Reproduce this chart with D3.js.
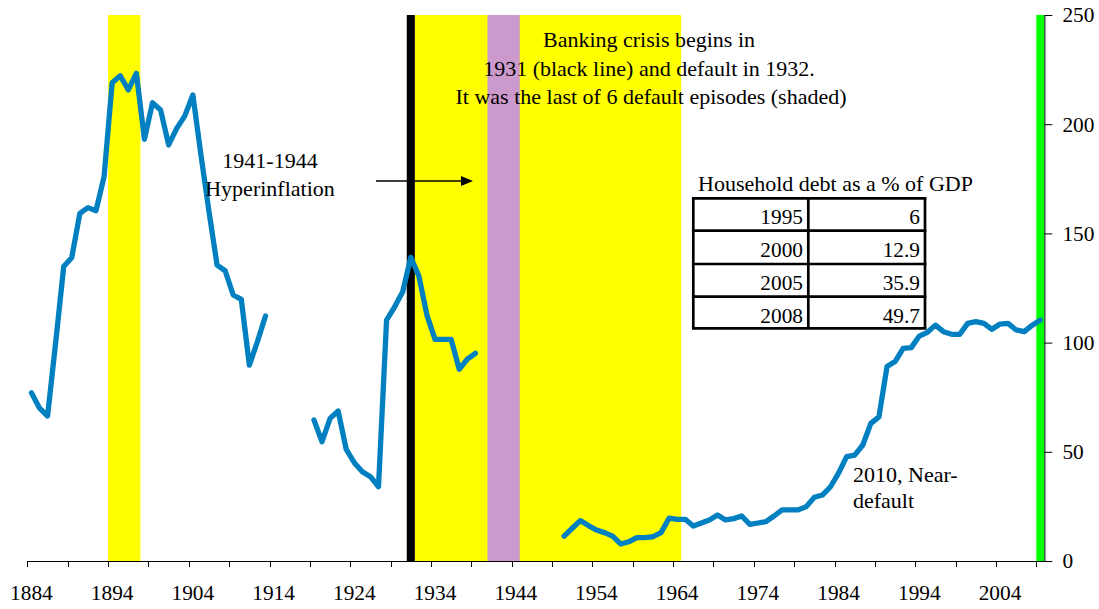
<!DOCTYPE html>
<html>
<head>
<meta charset="utf-8">
<script src="https://cdn.jsdelivr.net/npm/d3@7"></script>
<style>
  html, body { margin: 0; padding: 0; background: #fff; }
  svg { display: block; }
  text { font-family: "Liberation Serif", "Times New Roman", serif; fill: #000; }
</style>
</head>
<body>
<svg id="chart" width="1099" height="609"></svg>
<script>
// ---------------- DATA ----------------
const categoryYears = d3.range(1884, 2010);          // 1884 ... 2009
const labelYears = [1884, 1894, 1904, 1914, 1924, 1934, 1944, 1954, 1964, 1974, 1984, 1994, 2004];
const yTicks = [0, 50, 100, 150, 200, 250];

// Public debt (% of GDP), three observed segments
const segment1Start = 1884;
const segment1Values = [77, 70, 66.4, 100, 134.8, 139, 159.2, 161.8, 160.4, 176,
  219, 222.2, 215.7, 223.3, 193.1, 209.8, 206.5, 190.5, 198.1, 203.8,
  213.4, 186, 160, 135.5, 132.9, 121.8, 119.8, 89.7, 100.5, 112.2];
const segment2Start = 1919;
const segment2Values = [64.6, 54.6, 65.3, 68.7, 51.1, 45, 40.9, 38.6, 34, 110.3,
  116.4, 123.3, 139, 130.5, 112.6, 101.5, 101.5, 101.5, 87.8, 92.4, 95.1];
const segment3Start = 1950;
const segment3Values = [11.4, 15, 18.5, 16.2, 14.2, 13, 11.4, 7.8, 8.8, 10.7,
  10.7, 11.1, 13, 19.6, 19.1, 19.1, 16, 17.4, 18.8, 21.1,
  18.8, 19.4, 20.6, 16.8, 17.4, 18, 20.6, 23.4, 23.4, 23.4,
  24.9, 29.2, 30.2, 34, 40.2, 47.8, 48.5, 53.1, 63, 66,
  89, 91.3, 97.4, 97.7, 103, 104.7, 108, 105, 103.8, 103.8,
  108.8, 109.6, 108.8, 106.1, 108.5, 108.8, 105.8, 105, 108, 110.3];

// Shaded episodes [first year, last year]
const defaultEpisodes = [[1894, 1897], [1932, 1964]];
const hyperinflation = [[1941, 1944]];
const bankingCrisis = [[1931, 1931]];
const nearDefault = [[2009, 2009]];
const shadeTop = 250;

// Inset table
const tableTitle = "Household debt as a % of GDP";
const tableYears = ["1995", "2000", "2005", "2008"];
const tableValues = ["6", "12.9", "35.9", "49.7"];

// ---------------- CHART ----------------
const svg = d3.select("#chart");
svg.append("rect").attr("width", 1099).attr("height", 609).attr("fill", "#fff");

const x = d3.scaleBand().domain(categoryYears).range([27.4, 1044.4]).padding(0);
const y = d3.scaleLinear().domain([0, 250]).range([561, 15]);
const bw = x.bandwidth();
const FONT = "21.33px";
const ANN_FONT = "22px";

// series (year-indexed, null where missing)
const series = new Map();
segment1Values.forEach((v, i) => series.set(segment1Start + i, v));
segment2Values.forEach((v, i) => series.set(segment2Start + i, v));
segment3Values.forEach((v, i) => series.set(segment3Start + i, v));
const lineData = categoryYears.map(yr => ({ year: yr, value: series.has(yr) ? series.get(yr) : null }));

// shading
function shade(spans, color) {
  svg.append("g").selectAll("rect").data(spans).join("rect")
    .attr("x", d => x(d[0]))
    .attr("width", d => x(d[1]) + bw - x(d[0]))
    .attr("y", y(shadeTop))
    .attr("height", y(0) - y(shadeTop))
    .attr("fill", color);
}
shade(defaultEpisodes, "#FFFF00");
shade(hyperinflation, "#CC99CC");
shade(bankingCrisis, "#000000");
shade(nearDefault, "#00FF00");

// x axis: ticks every 5 categories at category boundaries
const tickYears = categoryYears.filter(yr => (yr - 1884) % 5 === 0);
const gx = svg.append("g");
gx.append("line").attr("x1", x(1884)).attr("x2", x(2009) + bw)
  .attr("y1", y(0) + 0.5).attr("y2", y(0) + 0.5).attr("stroke", "#000").attr("stroke-width", 1);
gx.selectAll("line.tk").data(tickYears).join("line").attr("class", "tk")
  .attr("x1", d => Math.round(x(d)) + 0.5).attr("x2", d => Math.round(x(d)) + 0.5)
  .attr("y1", y(0)).attr("y2", y(0) + 6).attr("stroke", "#000");

const xLabelAxis = d3.axisBottom(x).tickValues(labelYears).tickSize(0).tickPadding(0).tickFormat(d => d);
const gxl = svg.append("g").attr("transform", `translate(0,${y(0)})`).call(xLabelAxis);
gxl.select(".domain").remove();
gxl.selectAll("text").attr("dy", null).attr("y", 39).style("font-size", FONT)
  .style("font-family", "'Liberation Serif', 'Times New Roman', serif");

// right y axis
const yAxis = d3.axisRight(y).tickValues(yTicks).tickSize(8).tickSizeOuter(0).tickPadding(10);
const gy = svg.append("g").attr("transform", `translate(${x(2009) + bw},0)`).call(yAxis);
gy.select(".domain").attr("stroke", "#000");
gy.selectAll("text").style("font-size", FONT)
  .style("font-family", "'Liberation Serif', 'Times New Roman', serif");

// line
const line = d3.line()
  .defined(d => d.value !== null)
  .x(d => x(d.year) + bw / 2)
  .y(d => y(d.value));
svg.append("path").datum(lineData)
  .attr("d", line)
  .attr("fill", "none")
  .attr("stroke", "#0080C0")
  .attr("stroke-width", 5.3)
  .attr("stroke-linejoin", "round")
  .attr("stroke-linecap", "round");

// annotations
const ann = svg.append("g").style("font-size", ANN_FONT);
ann.append("text").attr("x", 649).attr("y", 47).attr("text-anchor", "middle").text("Banking crisis begins in");
ann.append("text").attr("x", 649).attr("y", 76).attr("text-anchor", "middle").text("1931 (black line) and default in 1932.");
ann.append("text").attr("x", 651).attr("y", 104).attr("text-anchor", "middle").text("It was the last of 6 default episodes (shaded)");
ann.append("text").attr("x", 270).attr("y", 168).attr("text-anchor", "middle").text("1941-1944");
ann.append("text").attr("x", 270).attr("y", 196).attr("text-anchor", "middle").text("Hyperinflation");
ann.append("text").attr("x", 853).attr("y", 482).text("2010, Near-");
ann.append("text").attr("x", 853).attr("y", 508).text("default");

// arrow
svg.append("line").attr("x1", 376).attr("y1", 181).attr("x2", 470).attr("y2", 181)
  .attr("stroke", "#000").attr("stroke-width", 1.5);
svg.append("path").attr("d", "M473,181 L461,176 L461,186 Z").attr("fill", "#000");

// table
const tbl = svg.append("g").style("font-size", FONT);
tbl.append("text").attr("x", 698).attr("y", 191).style("font-size", ANN_FONT).text(tableTitle);
const rowTops = [198.3, 230.7, 264, 296.7, 328.3];
const colX = [693.3, 808.3, 925];
tableYears.forEach((yr, i) => {
  tbl.append("rect").attr("x", colX[0]).attr("y", rowTops[i])
    .attr("width", colX[2] - colX[0]).attr("height", rowTops[i + 1] - rowTops[i])
    .attr("fill", "#fff");
});
tableYears.forEach((yr, i) => {
  tbl.append("text").attr("x", 803).attr("y", rowTops[i] + 26).attr("text-anchor", "end").text(yr);
  tbl.append("text").attr("x", 920).attr("y", rowTops[i] + 26).attr("text-anchor", "end").text(tableValues[i]);
});
rowTops.forEach(t => {
  tbl.append("line").attr("x1", colX[0] - 1.35).attr("x2", colX[2] + 1.35)
    .attr("y1", t).attr("y2", t).attr("stroke", "#000").attr("stroke-width", 2.7);
});
colX.forEach(c => {
  tbl.append("line").attr("x1", c).attr("x2", c)
    .attr("y1", rowTops[0]).attr("y2", rowTops[4]).attr("stroke", "#000").attr("stroke-width", 2.7);
});
</script>
</body>
</html>
